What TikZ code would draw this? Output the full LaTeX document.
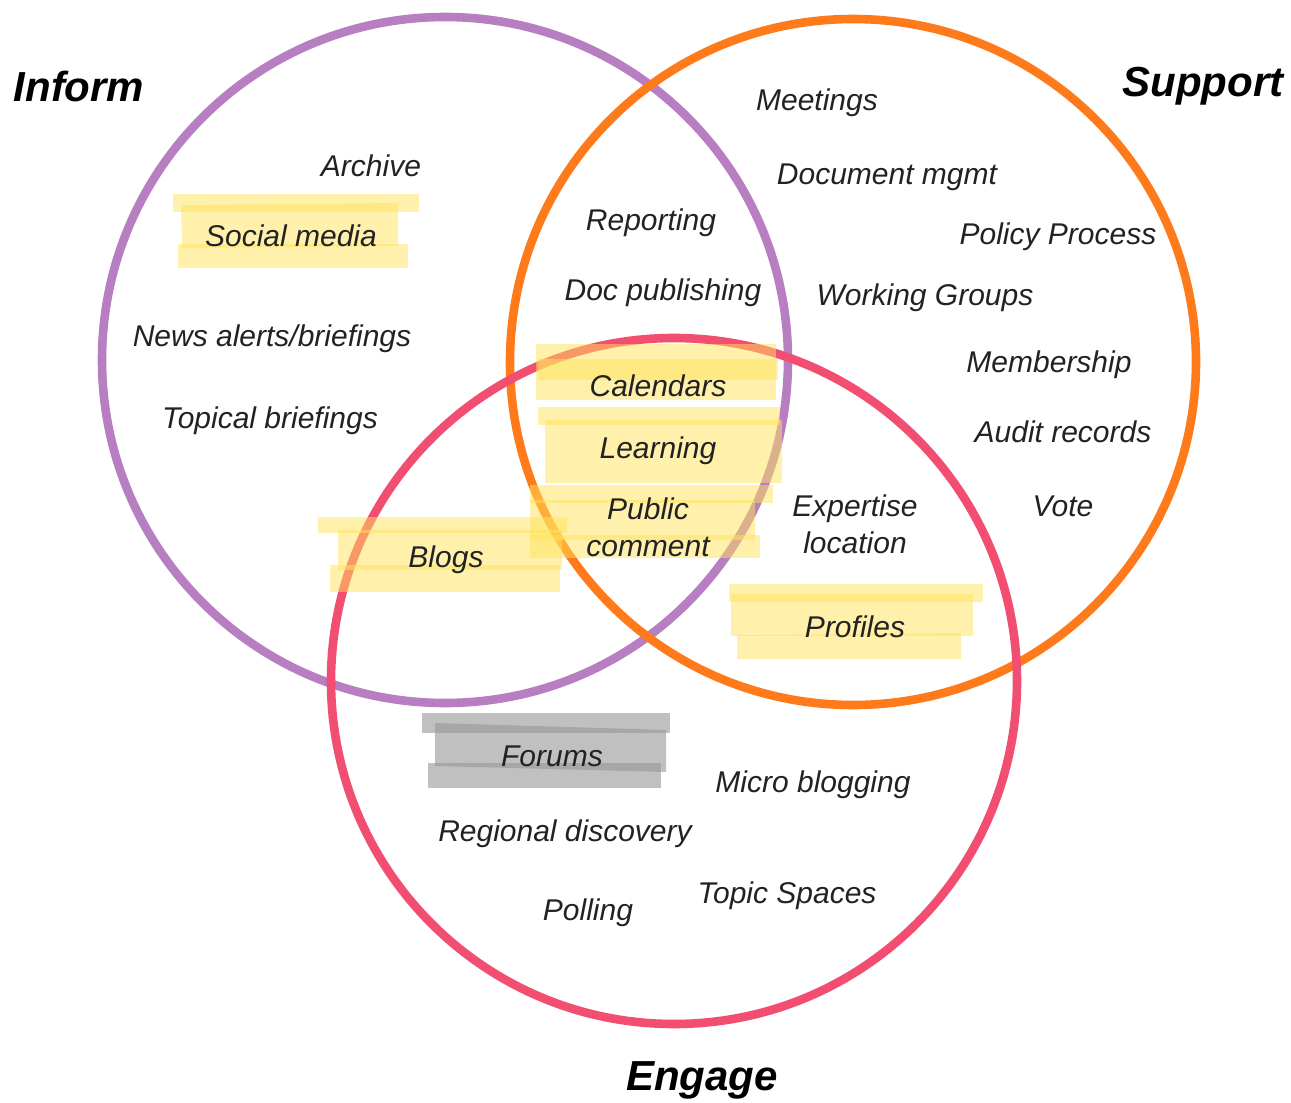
\documentclass[tikz,border=0pt]{standalone}
\usepackage{fontspec}
\setmainfont{Liberation Sans}
\definecolor{informc}{HTML}{B77FC1}
\definecolor{supportc}{HTML}{FF7A1A}
\definecolor{engagec}{HTML}{F24E72}
\definecolor{hlyellow}{RGB}{255,226,90}
\definecolor{hlgrey}{RGB}{150,150,150}
\definecolor{textc}{HTML}{222222}

\begin{document}
\begin{tikzpicture}[x=0.5pt,y=-0.5pt,
  ring/.style={line width=4.3pt},
  hl/.style={fill=hlyellow,fill opacity=0.5},
  hlg/.style={fill=hlgrey,fill opacity=0.6},
  item/.style={font=\fontsize{15}{18.5}\selectfont\itshape,text=textc,align=center,yshift=-1.5pt},
  heading/.style={font=\fontsize{21}{24}\selectfont\bfseries\itshape,yshift=-1pt}]
\useasboundingbox (0,0) rectangle (1291,1103);
% the three circles
\draw[ring,informc] (445,360) circle [radius=171.5pt];
\draw[ring,supportc] (853,362) circle [radius=171.5pt];
\draw[ring,engagec] (674,681) circle [radius=171.5pt];
% highlighter strips
\fill[hl] (173,194) rectangle (419,212);
\fill[hl] (181,205) -- (398,203) -- (398,246) -- (182,248) -- cycle;
\fill[hl] (178,244) rectangle (408,268);
\fill[hl] (536,344) rectangle (776,400);
\fill[hl] (538,359) rectangle (778,380);
\fill[hl] (538,407) rectangle (780,425);
\fill[hl] (545,420) rectangle (782,483);
\fill[hl] (530,485) rectangle (773,503);
\fill[hl] (530,500) rectangle (755,540);
\fill[hl] (530,535) rectangle (760,558);
\fill[hl] (318,517) rectangle (567,533);
\fill[hl] (338,530) rectangle (562,570);
\fill[hl] (330,565) rectangle (560,592);
\fill[hl] (729,584) rectangle (983,602);
\fill[hl] (731,594) rectangle (973,636);
\fill[hl] (737,635) -- (961,633) -- (961,659) -- (737,659) -- cycle;
\fill[hlg] (422,713) rectangle (670,733);
\fill[hlg] (435,723) -- (666,730) -- (666,772) -- (435,766) -- cycle;
\fill[hlg] (428,763) rectangle (661,788);
% headings
\node[heading] (inform) at (79,84) {Inform};
\node[heading] (support) at (1203,84) {Support};
\node[heading] (engage) at (702,1078) {Engage};
% inform only
\node[item] (archive) at (371,163) {Archive};
\node[item] (social) at (291,233) {Social media};
\node[item] (news) at (272,336) {News alerts/briefings};
\node[item] (topical) at (270,418) {Topical briefings};
% inform and support
\node[item] (reporting) at (651,220) {Reporting};
\node[item] (docpub) at (663,290) {Doc publishing};
% support only
\node[item] (meetings) at (817,100) {Meetings};
\node[item] (docmgmt) at (887,174) {Document mgmt};
\node[item] (policy) at (1058,234) {Policy Process};
\node[item] (groups) at (925,295) {Working Groups};
\node[item] (membership) at (1049,362) {Membership};
\node[item] (audit) at (1063,429) {Audit records};
\node[item] (vote) at (1063,503) {Vote};
% all three
\node[item] (calendars) at (658,383) {Calendars};
\node[item] (learning) at (658,448) {Learning};
\node[item] (comment) at (648,524) {Public\\comment};
% support and engage
\node[item] (expertise) at (855,521) {Expertise\\location};
\node[item] (profiles) at (855,624) {Profiles};
% inform and engage
\node[item] (blogs) at (446,557) {Blogs};
% engage only
\node[item] (forums) at (552,753) {Forums};
\node[item] (micro) at (813,782) {Micro blogging};
\node[item] (regional) at (565,831) {Regional discovery};
\node[item] (polling) at (588,910) {Polling};
\node[item] (topics) at (787,893) {Topic Spaces};
\end{tikzpicture}
\end{document}
